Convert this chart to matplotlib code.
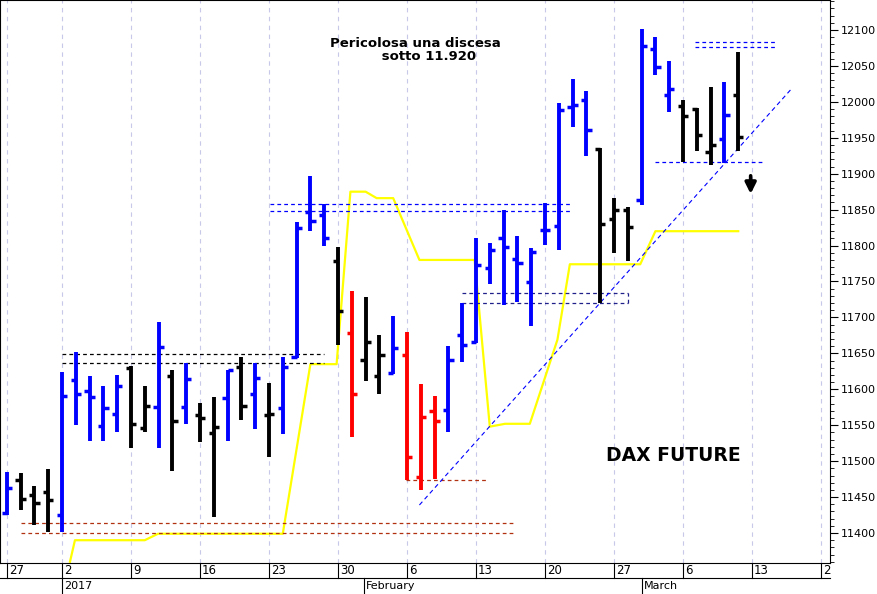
import matplotlib.pyplot as plt
import numpy as np

# daily bars, trading-day index (Jan 2 2017 = 0)
idx = list(range(-4, 0)) + list(range(0, 50))
opens = [11428, 11474, 11453, 11457,
         11425, 11613, 11598, 11549, 11566,
         11630, 11546, 11576, 11619, 11575,
         11564, 11539, 11588, 11631, 11593,
         11564, 11574, 11645, 11847, 11842,
         11779, 11678, 11641, 11618, 11622,
         11648, 11478, 11570, 11571, 11676,
         11666, 11769, 11811, 11781, 11749,
         11821, 11827, 11993, 12003, 11934,
         11837, 11850, 11864, 12074, 12010,
         11994, 11990, 11930, 11948, 12010]
highs = [11485, 11484, 11466, 11489,
         11624, 11652, 11619, 11604, 11620,
         11632, 11604, 11694, 11627, 11637,
         11581, 11589, 11627, 11645, 11637,
         11609, 11645, 11833, 11897, 11858,
         11798, 11737, 11728, 11676, 11702,
         11680, 11607, 11591, 11660, 11720,
         11811, 11804, 11849, 11813, 11797,
         11859, 11998, 12032, 12015, 11936,
         11866, 11853, 12101, 12090, 12057,
         12002, 11991, 12020, 12027, 12070]
lows = [11425, 11432, 11411, 11401,
        11402, 11550, 11528, 11528, 11541,
        11518, 11541, 11518, 11487, 11552,
        11527, 11422, 11528, 11557, 11545,
        11506, 11538, 11644, 11820, 11800,
        11661, 11534, 11612, 11594, 11621,
        11474, 11460, 11475, 11540, 11638,
        11664, 11747, 11717, 11722, 11688,
        11801, 11794, 11965, 11924, 11720,
        11790, 11778, 11857, 12037, 11986,
        11916, 11931, 11912, 11915, 11931]
closes = [11463, 11447, 11442, 11446,
          11591, 11593, 11589, 11574, 11604,
          11552, 11577, 11659, 11556, 11614,
          11560, 11548, 11627, 11577, 11616,
          11566, 11631, 11824, 11834, 11811,
          11709, 11594, 11666, 11648, 11658,
          11506, 11562, 11556, 11641, 11662,
          11773, 11794, 11798, 11776, 11791,
          11821, 11989, 11996, 11961, 11830,
          11850, 11826, 12078, 12048, 12018,
          11980, 11954, 11940, 11981, 11951]
colors = (['blue'] + ['black'] * 3 + ['blue'] * 5
          + ['black', 'black', 'blue', 'black', 'blue']
          + ['black', 'black', 'blue', 'black', 'blue']
          + ['black'] + ['blue'] * 4
          + ['black', 'red', 'black', 'black', 'blue']
          + ['red'] * 3 + ['blue'] * 11
          + ['black'] * 3 + ['blue'] * 3
          + ['black'] * 3 + ['blue', 'black'])

# yellow indicator line
yel_x = [0.58, 0.94, 6.0, 6.96, 16.0, 18.0, 19.9, 20.9, 22.0, 22.8, 24.0, 25.9,
         29.9, 31.0, 32.1, 33.9, 35.9, 36.8, 41.9, 43.0, 49.0]
yel_y = [11360, 11390, 11390, 11399, 11399, 11635, 11635, 11875, 11875, 11866,
         11866, 11780, 11780, 11548, 11552, 11552, 11669, 11774, 11774, 11820, 11820]

week_pos = [-4, 0, 5, 10, 15, 20, 25, 30, 35, 40, 45, 50, 55]
week_lab = ['27', '2', '9', '16', '23', '30', '6', '13', '20', '27', '6', '13', '2']
month_pos = [0, 21.9, 42.0]
month_lab = ['2017', 'February', 'March']

fig = plt.figure(figsize=(8.77, 5.94), dpi=100)
ax = fig.add_axes([0.0, 1 - 563 / 594, 830 / 877, 563 / 594])
ax.set_xlim(-4.49, 55.65)
ax.set_ylim(11358.3, 12141.7)

for wp in week_pos:
    ax.axvline(wp, color='#c8c8e8', lw=0.8, ls=(0, (4, 4)), zorder=0)

ax.plot(yel_x, yel_y, color='yellow', lw=1.6, zorder=1)

tk = 0.38
for i, o, h, l, c, col in zip(idx, opens, highs, lows, closes, colors):
    ax.vlines(i, l, h, color=col, lw=2.8, zorder=3)
    ax.hlines(o, i - tk, i, color=col, lw=2.5, zorder=3)
    ax.hlines(c, i, i + tk, color=col, lw=2.5, zorder=3)

# support / resistance lines
dash = (0, (3, 2.5))
ax.hlines([11649, 11637], 0.0, 19.0, color='black', lw=0.9, ls=dash)
ax.hlines([11414, 11400], -3.0, 32.8, color='#b03010', lw=0.9, ls=dash)
ax.hlines([11858, 11848], 15.1, 36.9, color='blue', lw=0.9, ls=dash)
ax.hlines([11734, 11720], 29.0, 41.0, color='#20208a', lw=0.9, ls=dash)
ax.vlines(41.0, 11720, 11734, color='#20208a', lw=0.9, ls=dash)
ax.hlines(11474, 24.9, 30.8, color='#b03010', lw=0.9, ls=dash)
ax.hlines([12083, 12076], 45.9, 51.8, color='blue', lw=0.9, ls=dash)
ax.hlines(11916, 43.0, 50.9, color='blue', lw=0.9, ls=dash)
ax.plot([25.9, 52.9], [11439, 12019], color='blue', lw=0.8, ls=(0, (4, 3)))

ax.annotate('', xy=(49.9, 11868), xytext=(49.9, 11901),
            arrowprops=dict(arrowstyle='-|>', color='black', lw=2.6, mutation_scale=16))
ax.text(25.6, 12072, 'Pericolosa una discesa\n      sotto 11.920', fontsize=9.5,
        fontweight='bold', ha='center', va='center', linespacing=1.0)
ax.text(44.3, 11508, 'DAX FUTURE', fontsize=13.5, fontweight='bold', ha='center', va='center')

ax.yaxis.tick_right()
ax.set_yticks(np.arange(11400, 12101, 50))
ax.set_yticks(np.arange(11360, 12141, 10), minor=True)
ax.tick_params(axis='y', which='major', length=6, labelsize=8, pad=2)
ax.tick_params(axis='y', which='minor', length=3)
ax.set_xticks([])

# date rows below the plot
tr = ax.get_xaxis_transform()
row = -15 / 563
for wp, wl in zip(week_pos, week_lab):
    ax.plot([wp, wp], [0, row], transform=tr, color='black', lw=0.8, clip_on=False)
    ax.text(wp + 0.15, row / 2, wl, transform=tr, fontsize=8.5, va='center', ha='left', clip_on=False)
ax.plot([-4.49, 55.65], [row, row], transform=tr, color='black', lw=0.8, clip_on=False)
for mp, ml in zip(month_pos, month_lab):
    ax.plot([mp, mp], [row, -31 / 563], transform=tr, color='black', lw=0.8, clip_on=False)
    ax.text(mp + 0.15, row - 8 / 563, ml, transform=tr, fontsize=8, va='center', ha='left', clip_on=False)

plt.savefig('out.png', dpi=100)
